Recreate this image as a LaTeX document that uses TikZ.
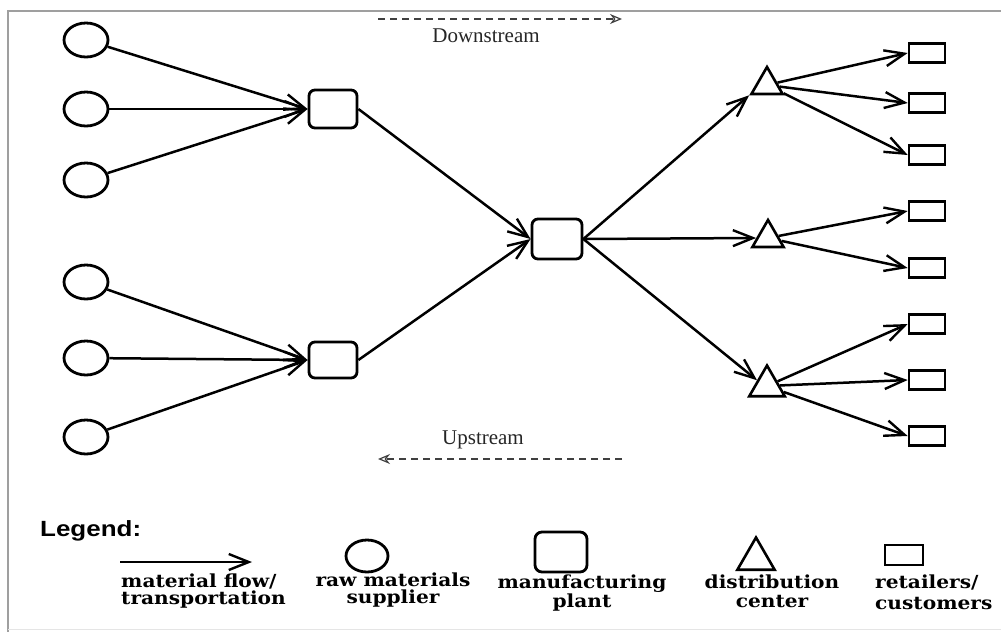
\documentclass[tikz,border=0pt]{standalone}
\usepackage{fontspec}
\setmainfont{Liberation Serif}
\newfontfamily\slab{DejaVu Serif}[FakeStretch=1.12]
\newfontfamily\legendsans{Liberation Sans}[FakeStretch=1.18]
\usetikzlibrary{arrows.meta,shapes.geometric}

\begin{document}
\begin{tikzpicture}[x=1pt,y=-1pt,
  supplier/.style={ellipse, draw, line width=2.8pt, minimum width=44pt, minimum height=34pt, inner sep=0pt},
  plant/.style={rectangle, rounded corners=6pt, draw, line width=2.8pt, minimum width=48pt, minimum height=38pt, inner sep=0pt},
  dc/.style={regular polygon, regular polygon sides=3, draw, line width=2.6pt, minimum size=36pt, inner sep=0pt},
  retailer/.style={rectangle, draw, line width=2.6pt, minimum width=36pt, minimum height=19pt, inner sep=0pt},
  flow/.style={line width=2.5pt, -{Straight Barb[length=20pt,width=16pt,line width=2.4pt]}},
  stream/.style={dash pattern=on 7pt off 5pt, line width=1.2pt, draw=black!75, -{Stealth[open,length=12pt,width=10pt,line width=1.2pt]}},
  streamlabel/.style={font=\fontsize{21}{24}\selectfont, text=black!85, inner sep=0pt},
  legendlabel/.style={font=\slab\bfseries\fontsize{18}{16}\selectfont, inner sep=0pt}
]
\useasboundingbox (0,0) rectangle (1001,632);

% frame
\draw[gray!75, line width=1.8pt] (1001,11) -- (8,11) -- (8,632);
\draw[gray!20, line width=1pt] (8,629) -- (1001,629);

% raw materials suppliers
\node[supplier] (c1) at (86,40) {};
\node[supplier] (c2) at (86,109) {};
\node[supplier] (c3) at (86,180) {};
\node[supplier] (c4) at (86,282) {};
\node[supplier] (c5) at (86,358) {};
\node[supplier] (c6) at (86,437) {};

% manufacturing plants
\node[plant] (p1) at (333,109) {};
\node[plant, minimum height=36pt] (p2) at (333,360) {};
\node[plant, minimum width=50pt, minimum height=40pt] (pc) at (557,239) {};

% distribution centers
\node[dc] (t1) at (767,85) {};
\node[dc] (t2) at (768,238) {};
\node[dc, minimum size=41pt] (t3) at (767,386) {};

% retailers / customers
\node[retailer] (r1) at (927,53) {};
\node[retailer] (r2) at (927,103) {};
\node[retailer] (r3) at (927,155) {};
\node[retailer] (r4) at (927,211) {};
\node[retailer] (r5) at (927,268) {};
\node[retailer] (r6) at (927,324) {};
\node[retailer] (r7) at (927,380) {};
\node[retailer] (r8) at (927,436) {};

% material flows
\foreach \c in {c1,c2,c3} \draw[flow] (\c) -- (p1.west);
\foreach \c in {c4,c5,c6} \draw[flow] (\c) -- (p2.west);
\draw[flow] (p1.east) -- (pc.west);
\draw[flow] (p2.east) -- (pc.west);
\draw[flow] (pc.east) -- (t1.corner 2);
\draw[flow] (pc.east) -- (t2.west);
\draw[flow] (pc.east) -- (t3.side 1);
\foreach \r in {r1,r2,r3} \draw[flow] (t1) -- (\r.west);
\foreach \r in {r4,r5} \draw[flow] (t2) -- (\r.west);
\foreach \r in {r6,r7,r8} \draw[flow] (t3) -- (\r.west);

% downstream / upstream indicators
\coordinate (dsA) at (378,19);
\coordinate (dsB) at (622,19);
\draw[stream] (dsA) -- (dsB);
\node[streamlabel] (dslabel) at (486,36) {Downstream};
\coordinate (usA) at (622,459);
\coordinate (usB) at (378,459);
\draw[stream] (usA) -- (usB);
\node[streamlabel] (uslabel) at (483,440) {Upstream};

% legend
\node[anchor=west, font=\legendsans\bfseries\fontsize{22}{24}\selectfont, inner sep=0pt] (legtitle) at (40,531) {Legend:};
\coordinate (lgA) at (120,562);
\coordinate (lgB) at (252,562);
\draw[flow, line width=1.8pt] (lgA) -- (lgB);
\node[supplier, minimum width=42pt, minimum height=32pt] (lc) at (367,556) {};
\node[plant, minimum width=52pt, minimum height=40pt, rounded corners=7pt] (lp) at (561,552) {};
\node[dc, minimum size=43pt] (lt) at (756,559) {};
\node[retailer, minimum width=38pt, minimum height=20pt] (lr) at (904,555) {};

\node[legendlabel, anchor=north west, align=left, font=\slab\bfseries\fontsize{18}{17}\selectfont] (lab1) at (121,574) {material flow/\\transportation};
\node[legendlabel, anchor=north, align=center, font=\slab\bfseries\fontsize{18}{17}\selectfont] (lab2) at (393,573) {raw materials\\supplier};
\node[legendlabel, anchor=north, align=center, font=\slab\bfseries\fontsize{18}{19}\selectfont] (lab3) at (582,575) {manufacturing\\plant};
\node[legendlabel, anchor=north, align=center, font=\slab\bfseries\fontsize{18}{19}\selectfont] (lab4) at (772,575) {distribution\\center};
\node[legendlabel, anchor=north west, align=left, font=\slab\bfseries\fontsize{18}{21}\selectfont] (lab5) at (875,575) {retailers/\\customers};
\end{tikzpicture}
\end{document}
